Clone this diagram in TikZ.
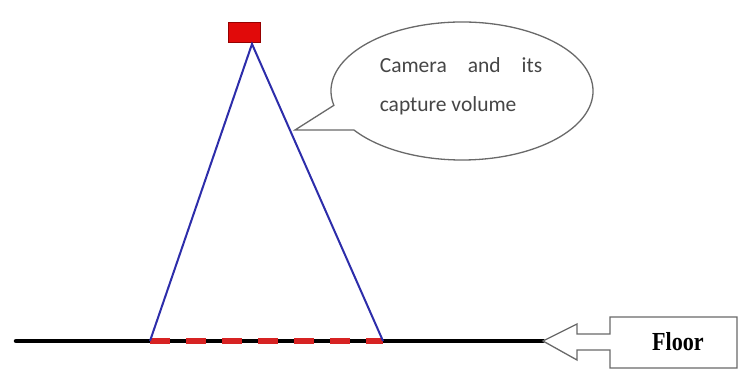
\documentclass[tikz,border=0pt]{standalone}
\usepackage{fontspec}
\setmainfont{Liberation Serif}
\newfontfamily\calib{Carlito}
\usetikzlibrary{calc}
\definecolor{camred}{RGB}{225,10,10}
\definecolor{camedge}{RGB}{150,0,0}
\definecolor{volblue}{RGB}{45,45,170}
\definecolor{dashred}{RGB}{215,35,35}
\definecolor{outl}{RGB}{105,105,105}
\definecolor{txtgray}{RGB}{70,70,70}
\tikzset{
  cambox/.style={draw=camedge, fill=camred, line width=1pt, minimum width=32pt, minimum height=20pt, inner sep=0pt},
  volline/.style={draw=volblue, line width=2pt},
  floorline/.style={draw=black, line width=4.5pt, line cap=round},
  visfloor/.style={draw=dashred, line width=6pt, dash pattern=on 20pt off 16pt},
  outline/.style={draw=outl, line width=1.3pt, fill=white},
}
\begin{document}
\begin{tikzpicture}[x=1pt,y=-1pt]
\useasboundingbox[fill=white] (0,0) rectangle (738,369);
% floor
\coordinate (fl) at (16,341);
\coordinate (fr) at (543,341);
\coordinate (vl) at (150,341);
\coordinate (vr) at (383,341);
\draw[floorline] (fl) -- (fr);
\draw[visfloor] (vl) -- (vr);
% camera
\node[cambox] (cam) at (244,33) {};
\coordinate (apex) at (252,44);
\draw[volline] (vl) -- (apex) -- (vr);
% speech bubble
\coordinate (bc) at (462,91);
\coordinate (tip) at (295,130);
\draw[outline] (tip) -- ($(bc)+(168:131 and 69)$)
  arc[start angle=168, end angle=505.6, x radius=131, y radius=69] -- cycle;
\node[text=txtgray, font=\calib\fontsize{21.5}{39}\selectfont, align=left] (btxt) at (461,86)
  {Camera\hspace{0.75em} and\hspace{0.75em} its\\capture volume};
% floor callout
\draw[outline] (610,317) -- (737,317) -- (737,368) -- (610,368) -- (610,350)
  -- (577,350) -- (577,360) -- (fr) -- (577,324) -- (577,334) -- (610,334) -- cycle;
\node[font=\fontsize{26}{30}\selectfont\bfseries] (floor) at (678,342) {\scalebox{0.85}[1]{Floor}};
\end{tikzpicture}
\end{document}
